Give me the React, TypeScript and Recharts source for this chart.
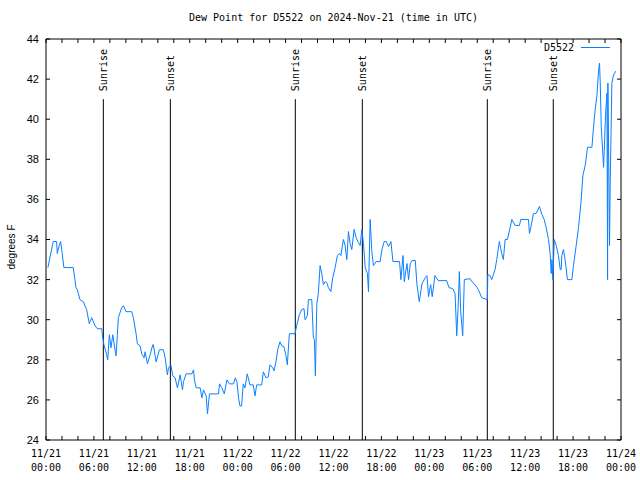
import React from 'react'
import { LineChart, Line, XAxis, YAxis, ReferenceLine } from 'recharts'

// hours since 2024-11-21 00:00 UTC
const hours = [
  0.24, 0.9, 1.33, 1.41, 1.66, 1.83, 2.03, 2.24, 3.41, 3.63, 3.75, 3.92, 4.25, 4.67, 5.09, 5.42, 5.72, 6.14, 6.42, 6.98,
  7.1, 7.26, 7.6, 7.73, 7.93, 8.14, 8.36, 8.64, 8.77, 8.93, 9.06, 9.48, 9.69, 10.02, 10.74, 10.94, 11.28, 11.44, 11.78, 11.99,
  12.28, 12.41, 12.7, 13.04, 13.37, 13.44, 13.79, 14.2, 14.7, 14.92, 15.2, 15.34, 15.63, 15.88, 16.17, 16.46, 16.8, 17.09, 17.21, 17.55,
  18.27, 18.47, 18.59, 18.8, 19.31, 19.52, 19.72, 20.06, 20.22, 20.47, 21.6, 21.73, 22.03, 22.32, 22.66, 22.98, 23.49, 23.7, 23.91, 24.11,
  24.28, 24.49, 24.7, 24.91, 25.2, 25.54, 25.95, 26.17, 26.38, 27.01, 27.21, 27.55, 27.83, 28.05, 28.39, 28.55, 28.8, 29.01, 29.3, 29.51,
  29.8, 30.05, 30.22, 30.47, 31.18, 31.39, 31.72, 32.02, 32.31, 32.44, 32.73, 32.86, 33.28, 33.48, 33.61, 33.73, 33.91, 34.1, 34.32, 34.53,
  34.73, 34.95, 35.16, 35.36, 35.66, 35.91, 36.2, 36.49, 36.74, 36.92, 37.24, 37.45, 37.67, 37.87, 38.08, 38.29, 38.58, 38.83, 39.12, 39.34,
  39.55, 39.75, 39.97, 40.25, 40.38, 40.59, 40.8, 41.0, 41.34, 41.84, 42.06, 42.35, 42.6, 42.89, 43.19, 43.44, 44.27, 44.44, 44.7, 44.86,
  45.2, 45.4, 45.61, 45.82, 46.24, 46.45, 46.74, 47.08, 47.49, 47.7, 47.9, 48.16, 48.36, 48.7, 49.12, 50.17, 50.46, 50.93, 51.22, 51.43,
  51.59, 51.76, 51.93, 52.18, 52.38, 53.1, 53.31, 53.72, 54.14, 54.56, 55.27, 55.32, 55.6, 55.81, 56.23, 56.44, 56.77, 57.07, 57.27, 57.49,
  57.78, 58.12, 58.33, 58.74, 59.28, 59.46, 60.41, 60.54, 60.71, 61.04, 61.38, 61.79, 62.09, 62.38, 62.63, 62.92, 63.13, 63.26, 63.35, 63.47,
  63.64, 63.89, 64.17, 64.39, 64.51, 64.59, 64.79, 65.0, 65.29, 65.85, 66.05, 66.39, 66.68, 66.98, 67.23, 67.52, 67.81, 68.36, 68.56, 68.77,
  68.99, 69.19, 69.31, 69.4, 69.53, 69.82, 69.9, 70.06, 70.24, 70.32, 70.36, 70.49, 70.56, 70.65, 70.86, 71.06, 71.36,
]

// dew point, degrees F
const dewPoint = [
  32.6, 33.9, 33.9, 33.3, 33.7, 33.9, 33.3, 32.6, 32.6, 32.0, 31.6, 31.5, 31.0, 30.9, 30.5, 29.8, 30.1, 29.7, 29.55, 29.55,
  29.1, 28.75, 28.25, 28.0, 29.25, 28.6, 29.25, 28.5, 28.2, 29.2, 30.1, 30.6, 30.7, 30.4, 30.4, 30.1, 29.3, 28.8, 28.7, 28.3,
  28.1, 28.4, 27.8, 28.25, 28.75, 28.75, 27.9, 28.5, 28.5, 28.1, 27.25, 27.6, 27.75, 27.2, 27.1, 26.6, 27.25, 26.5, 26.9, 27.3,
  27.3, 27.5, 27.0, 26.6, 26.6, 26.1, 26.5, 26.2, 25.3, 26.3, 26.3, 26.8, 26.6, 26.3, 27.0, 26.8, 26.8, 27.1, 26.9, 26.1,
  25.7, 25.7, 26.8, 26.6, 27.3, 26.75, 26.75, 26.2, 26.75, 26.75, 27.4, 27.1, 27.15, 27.75, 27.6, 27.45, 27.9, 28.5, 28.9, 28.7,
  28.65, 28.2, 27.75, 29.3, 29.3, 29.7, 30.25, 30.5, 30.55, 30.0, 30.2, 31.0, 31.0, 29.1, 29.0, 27.2, 30.8, 31.3, 32.7, 32.3,
  31.75, 31.9, 31.85, 31.6, 31.4, 32.1, 32.6, 33.2, 33.3, 33.2, 34.0, 33.7, 33.0, 34.4, 33.8, 33.5, 34.5, 34.1, 33.85, 33.7,
  34.5, 33.8, 32.6, 32.3, 31.4, 35.0, 33.4, 32.7, 32.9, 32.9, 33.5, 33.9, 33.9, 33.65, 33.9, 32.9, 32.9, 32.0, 33.2, 31.9,
  32.8, 32.0, 32.8, 32.95, 32.95, 31.75, 30.9, 31.8, 32.1, 32.2, 31.15, 31.75, 31.15, 32.2, 31.95, 31.95, 31.6, 31.55, 31.3, 29.2,
  30.5, 32.4, 30.4, 29.2, 32.0, 32.05, 31.9, 31.75, 31.5, 31.1, 31.0, 32.25, 32.2, 32.0, 32.5, 33.0, 33.9, 33.3, 33.0, 34.0,
  34.0, 34.6, 35.0, 34.7, 34.7, 35.0, 35.0, 34.3, 34.6, 35.3, 35.3, 35.65, 35.25, 35.0, 34.6, 34.0, 33.3, 32.3, 33.0, 32.0,
  34.0, 33.7, 33.2, 32.5, 32.5, 33.2, 33.5, 33.0, 32.0, 32.0, 32.7, 33.7, 34.6, 35.8, 37.2, 37.7, 38.6, 38.6, 39.6, 40.5,
  41.2, 42.4, 42.8, 41.8, 39.6, 37.6, 38.4, 40.2, 41.3, 32.0, 41.8, 36.9, 33.7, 36.9, 41.8, 42.2, 42.4,
]

const xTicks = [0, 6, 12, 18, 24, 30, 36, 42, 48, 54, 60, 66, 72]
const xTickLabels = [
  ['11/21', '00:00'], ['11/21', '06:00'], ['11/21', '12:00'], ['11/21', '18:00'],
  ['11/22', '00:00'], ['11/22', '06:00'], ['11/22', '12:00'], ['11/22', '18:00'],
  ['11/23', '00:00'], ['11/23', '06:00'], ['11/23', '12:00'], ['11/23', '18:00'],
  ['11/24', '00:00'],
]
const minorTicks = [0, 2, 4, 6, 8, 10, 12, 14, 16, 18, 20, 22, 24, 26, 28, 30, 32, 34, 36, 38, 40, 42, 44, 46, 48, 50, 52, 54, 56, 58, 60, 62, 64, 66, 68, 70, 72]
const yTicks = [24, 26, 28, 30, 32, 34, 36, 38, 40, 42, 44]

const sunEvents = [
  { hour: 7.18, label: 'Sunrise' },
  { hour: 15.57, label: 'Sunset' },
  { hour: 31.22, label: 'Sunrise' },
  { hour: 39.61, label: 'Sunset' },
  { hour: 55.26, label: 'Sunrise' },
  { hour: 63.52, label: 'Sunset' },
]

const data = hours.map((h, i) => ({ h, dp: dewPoint[i] }))

const LINE_COLOR = '#0a80ff'
const MONO = '"DejaVu Sans Mono", monospace'
const SANS = '"Liberation Sans", Arial, sans-serif'

const XTick = ({ x, payload }: any) => {
  const idx = xTicks.indexOf(payload.value)
  if (idx < 0) return null
  const [d, t] = xTickLabels[idx]
  return (
    <text x={x} textAnchor="middle" fontFamily={MONO} fontSize={10} fill="#000">
      <tspan x={x} y={457}>{d}</tspan>
      <tspan x={x} y={471}>{t}</tspan>
    </text>
  )
}

const SunLabel = ({ viewBox, value }: any) => {
  const x = viewBox.x
  const y = viewBox.y - 8
  return (
    <text x={x} y={y} transform={`rotate(-90 ${x} ${y})`} dy={3.5} fontFamily={MONO} fontSize={10} fill="#000">
      {value}
    </text>
  )
}

export default function App() {
  return (
    <div style={{ position: 'absolute', left: 0, top: 0, width: 640, height: 480, background: '#fff' }}>
      <div style={{ position: 'absolute', left: 0, width: 667, top: 12, textAlign: 'center', fontFamily: MONO, fontSize: 10 }}>
        Dew Point for D5522 on 2024-Nov-21 (time in UTC)
      </div>
      <div
        style={{
          position: 'absolute', left: 11, top: 247, transform: 'translate(-50%, -50%) rotate(-90deg)',
          fontFamily: SANS, fontSize: 10, whiteSpace: 'nowrap',
        }}
      >
        degrees F
      </div>
      <div style={{ position: 'absolute', left: 544, top: 42, display: 'flex', alignItems: 'center', fontFamily: MONO, fontSize: 10 }}>
        <span>D5522</span>
        <span style={{ display: 'inline-block', width: 29, height: 1, background: LINE_COLOR, marginLeft: 7 }} />
      </div>
      <LineChart width={640} height={480} data={data} margin={{ top: 38, right: 18, bottom: 0, left: 6 }}>
        <XAxis
          xAxisId="b" dataKey="h" type="number" domain={[0, 72]} ticks={minorTicks} allowDataOverflow
          orientation="bottom" height={40} stroke="#000" tickSize={-4} tickMargin={0} tick={<XTick />} interval={0}
        />
        <XAxis
          xAxisId="t" dataKey="h" type="number" domain={[0, 72]} ticks={minorTicks} allowDataOverflow
          orientation="top" height={1} stroke="#000" tickSize={-4} tickFormatter={() => ''} interval={0}
        />
        <YAxis
          yAxisId="l" type="number" domain={[24, 44]} ticks={yTicks} allowDataOverflow width={40}
          stroke="#000" tickSize={-4} tickMargin={11} interval={0}
          tick={{ fill: '#000', fontFamily: SANS, fontSize: 11 }}
        />
        <YAxis
          yAxisId="r" orientation="right" type="number" domain={[24, 44]} ticks={yTicks} allowDataOverflow width={1}
          stroke="#000" tickSize={-4} tickFormatter={() => ''} interval={0}
        />
        {sunEvents.map((e, i) => (
          <ReferenceLine
            key={i} xAxisId="b" yAxisId="l"
            segment={[{ x: e.hour, y: 41 }, { x: e.hour, y: 24 }]}
            stroke="#000" strokeWidth={1}
            label={<SunLabel value={e.label} />}
          />
        ))}
        {/* invisible copy so the top/right frame axes get drawn */}
        <Line
          xAxisId="t" yAxisId="r" type="linear" dataKey="dp" stroke="none"
          dot={false} activeDot={false} isAnimationActive={false}
        />
        <Line
          xAxisId="b" yAxisId="l" type="linear" dataKey="dp" stroke={LINE_COLOR} strokeWidth={1}
          dot={false} isAnimationActive={false}
        />
      </LineChart>
    </div>
  )
}
